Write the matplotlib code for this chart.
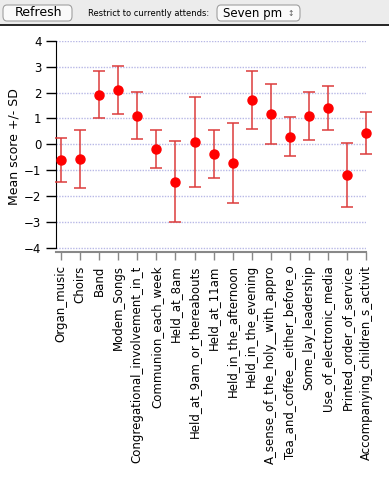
import matplotlib
matplotlib.use('Agg')
import matplotlib.pyplot as plt
from matplotlib.patches import Rectangle, FancyBboxPatch
from matplotlib.lines import Line2D

labels = ['Organ_music', 'Choirs', 'Band', 'Modem_Songs',
          'Congregational_involvement_in_t', 'Communion_each_week',
          'Held_at_8am', 'Held_at_9am_or_thereabouts', 'Held_at_11am',
          'Held_in_the_afternoon', 'Held_in_the_evening',
          'A_sense_of_the_holy__with_appro', 'Tea_and_coffee__either_before_o',
          'Some_lay_leadership', 'Use_of_electronic_media',
          'Printed_order_of_service', 'Accompanying_children_s_activit']
means = [-0.60, -0.56, 1.92, 2.11, 1.11, -0.17, -1.45, 0.10, -0.37,
         -0.72, 1.73, 1.18, 0.30, 1.10, 1.41, -1.18, 0.45]
sds = [0.85, 1.13, 0.92, 0.92, 0.92, 0.74, 1.57, 1.75, 0.94,
       1.55, 1.12, 1.16, 0.77, 0.93, 0.84, 1.24, 0.82]

fig = plt.figure(figsize=(3.89, 4.91), dpi=100)
fig.patch.set_facecolor('white')

# toolbar strip on top
fig.add_artist(Rectangle((0, 1 - 24/491), 1, 24/491, transform=fig.transFigure,
                         facecolor='#ececec', edgecolor='none'))
fig.add_artist(Line2D([0, 1], [1 - 25/491, 1 - 25/491], transform=fig.transFigure,
                      color='black', lw=1.2))
fig.add_artist(FancyBboxPatch((3/389, 1 - 21/491), 69/389, 16/491,
                              boxstyle='round,pad=0,rounding_size=0.01',
                              transform=fig.transFigure, facecolor='#fafafa',
                              edgecolor='#a0a0a0', lw=0.8))
fig.text(38/389, 1 - 13/491, 'Refresh', ha='center', va='center', fontsize=9)
fig.text(88/389, 1 - 13/491, 'Restrict to currently attends:', ha='left',
         va='center', fontsize=6)
fig.add_artist(FancyBboxPatch((217/389, 1 - 21/491), 83/389, 16/491,
                              boxstyle='round,pad=0,rounding_size=0.01',
                              transform=fig.transFigure, facecolor='#fafafa',
                              edgecolor='#a0a0a0', lw=0.8))
fig.text(223/389, 1 - 13/491, 'Seven pm', ha='left', va='center', fontsize=8.5)
fig.text(291/389, 1 - 13/491, '\u2195', ha='center', va='center', fontsize=5.5,
         color='#555555')

ax = fig.add_axes([56/389, 1 - 252/491, 310/389, 211/491])
x = list(range(len(labels)))
eb = ax.errorbar(x, means, yerr=sds, fmt='o', color='#ff0000', markersize=6.5,
                 ecolor='#dc3c3c', elinewidth=1.1, capsize=4.5, capthick=1.1,
                 zorder=3)
for art in eb.lines[1] + eb.lines[2] + (eb.lines[0],):
    art.set_clip_on(False)

for v in range(-4, 5):
    ax.axhline(v, color='#b8b8e6', lw=1, ls=(0, (1, 1)), zorder=1)

ax.set_xlim(-0.27, 16)
ax.set_ylim(-4.17, 4.0)
ax.set_yticks(range(-4, 5))
ax.set_xticks(x)
ax.set_xticklabels(labels, rotation=90, fontsize=8.5)
ax.tick_params(axis='y', labelsize=8.5, length=7, width=1, direction='out')
ax.tick_params(axis='x', length=6, width=1, color='#888888', direction='out')
for s in ['top', 'right']:
    ax.spines[s].set_visible(False)
ax.spines['left'].set_bounds(-4, 4)
ax.spines['bottom'].set_color('#888888')
ax.spines['bottom'].set_linewidth(1.5)
ax.set_ylabel('Mean score +/- SD', fontsize=9)
ax.yaxis.set_label_coords(-0.115, 0.5)

plt.savefig('out.png', dpi=100)
